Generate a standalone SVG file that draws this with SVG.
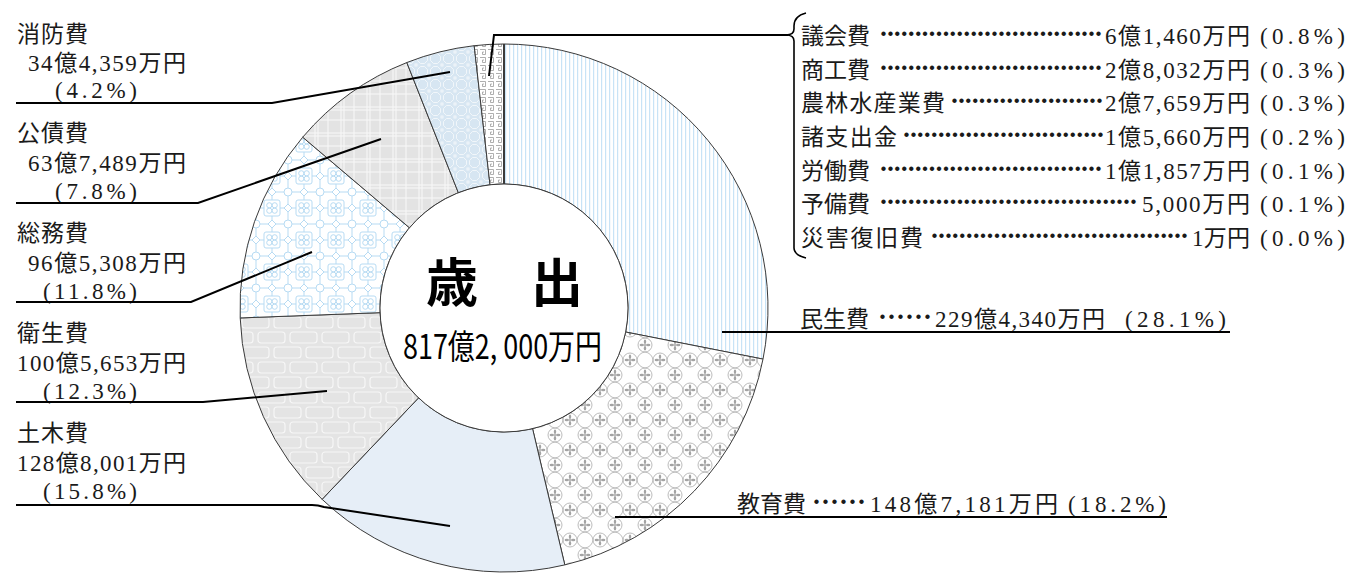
<svg xmlns="http://www.w3.org/2000/svg" xmlns:xlink="http://www.w3.org/1999/xlink" width="1372" height="573" viewBox="0 0 1372 573">
<style>
.slice{stroke:#3a3a3a;stroke-width:1}
.lbl{font-family:"Liberation Serif","Noto Sans CJK JP",serif;font-size:23px;fill:#1a1a1a}
.lst{font-family:"Liberation Serif","Noto Sans CJK JP",serif;font-size:23px;fill:#1a1a1a}
.dots{font-family:"Liberation Serif",serif;font-weight:bold;font-size:27px;fill:#1a1a1a}
.lead{fill:none;stroke:#000;stroke-width:2}
.big{font-family:"Noto Sans CJK JP",sans-serif;font-weight:bold;fill:#000}
</style>
<defs>
<g id="flower" fill="#a4a4a4">
<ellipse cx="0" cy="-3.2" rx="1.2" ry="2.2"/><ellipse cx="0" cy="3.2" rx="1.2" ry="2.2"/>
<ellipse cx="-3.2" cy="0" rx="2.2" ry="1.2"/><ellipse cx="3.2" cy="0" rx="2.2" ry="1.2"/>
<circle r="1"/>
</g>
<pattern id="p-minsei" patternUnits="userSpaceOnUse" width="4" height="8">
<rect width="4" height="8" fill="#fff"/><rect x="1" width="1.2" height="8" fill="#c8e3f6"/>
</pattern>
<pattern id="p-kyoiku" patternUnits="userSpaceOnUse" width="30" height="30">
<rect width="30" height="30" fill="#fff"/>
<g fill="none" stroke="#bcbcbc" stroke-width="1">
<circle cx="0" cy="0" r="7"/><circle cx="30" cy="0" r="7"/><circle cx="0" cy="30" r="7"/><circle cx="30" cy="30" r="7"/><circle cx="15" cy="15" r="7"/>
<path d="M7 0A9 9 0 0 0 15 8M23 0A9 9 0 0 1 15 8M7 30A9 9 0 0 1 15 22M23 30A9 9 0 0 0 15 22"/>
</g>
<use xlink:href="#flower" x="0" y="0"/><use xlink:href="#flower" x="30" y="0"/><use xlink:href="#flower" x="0" y="30"/><use xlink:href="#flower" x="30" y="30"/><use xlink:href="#flower" x="15" y="15"/>
</pattern>
<pattern id="p-eisei" patternUnits="userSpaceOnUse" width="32" height="30">
<rect width="32" height="30" fill="#e4e4e4"/>
<g fill="none" stroke="#f7f7f7" stroke-width="1.2">
<rect x="2" y="2" width="27" height="11" rx="3"/><rect x="-14" y="17" width="27" height="11" rx="3"/><rect x="18" y="17" width="27" height="11" rx="3"/>
</g>
</pattern>
<pattern id="p-somu" patternUnits="userSpaceOnUse" width="32" height="32">
<rect width="32" height="32" fill="#fff"/>
<g fill="none" stroke="#b7dbf3" stroke-width="1">
<rect x="8" y="8" width="16" height="16" rx="2"/>
<circle cx="13.3" cy="13.3" r="2.6"/><circle cx="18.7" cy="13.3" r="2.6"/><circle cx="13.3" cy="18.7" r="2.6"/><circle cx="18.7" cy="18.7" r="2.6"/>
<circle cx="0" cy="0" r="4"/><circle cx="32" cy="0" r="4"/><circle cx="0" cy="32" r="4"/><circle cx="32" cy="32" r="4"/>
<path d="M16 -4L20 0L16 4L12 0ZM16 28L20 32L16 36L12 32ZM-4 16L0 12L4 16L0 20ZM28 16L32 12L36 16L32 20Z"/>
<path d="M16 4V8M16 24V28M4 16H8M24 16H28M4 0H12M20 0H28M4 32H12M20 32H28M0 4V12M0 20V28M32 4V12M32 20V28"/>
</g>
</pattern>
<pattern id="p-kosai" patternUnits="userSpaceOnUse" width="26" height="26">
<rect width="26" height="26" fill="#e3e3e3"/>
<g stroke="#fafafa" stroke-width="1" opacity="0.9">
<path d="M3 0V26M6 0V26M16 0V26M0 3H26M0 6H26M0 16H26"/>
</g>
</pattern>
<pattern id="p-shobo" patternUnits="userSpaceOnUse" width="13" height="13">
<rect width="13" height="13" fill="#d7e6f2"/>
<g fill="none" stroke="#f4f8fb" stroke-width="0.9">
<path d="M4.5 1.5H8.5L11.5 4.5V8.5L8.5 11.5H4.5L1.5 8.5V4.5Z"/>
<rect x="-1" y="-1" width="2" height="2"/><rect x="12" y="-1" width="2" height="2"/><rect x="-1" y="12" width="2" height="2"/><rect x="12" y="12" width="2" height="2"/>
</g>
</pattern>
<pattern id="p-other" patternUnits="userSpaceOnUse" width="8" height="8">
<rect width="8" height="8" fill="#fff"/>
<path d="M0 1.5H5.5V6.5H2.5V4H4" fill="none" stroke="#9a9a9a" stroke-width="0.8"/>
</pattern>
</defs>

<rect width="1372" height="573" fill="#fff"/>

<g id="n-minsei">
<path class="slice" fill="url(#p-minsei)" d="M504 44A264 264 0 0 1 763.01 359.1L625.66 332A124 124 0 0 0 504 184Z"/>
<text class="lst" x="800" y="327" textLength="69">民生費</text>
<text class="dots" x="878" y="326" textLength="54">······</text>
<text class="lst" x="935" y="327" textLength="170">229億4,340万円</text>
<text class="lst" x="1125" y="327" textLength="101">(28.1%)</text>
</g>
<g id="n-kyoiku">
<path class="slice" fill="url(#p-kyoiku)" d="M763.01 359.1A264 264 0 0 1 564.82 564.9L532.57 428.66A124 124 0 0 0 625.66 332Z"/>
<text class="lst" x="737" y="512" textLength="69">教育費</text>
<text class="dots" x="812" y="511" textLength="54">······</text>
<text class="lst" x="870" y="512" textLength="188">148億7,181万円</text>
<text class="lst" x="1068" y="512" textLength="98">(18.2%)</text>
</g>
<g id="n-doboku">
<path class="slice" fill="#e6eef7" d="M564.82 564.9A264 264 0 0 1 322.11 499.34L418.57 397.87A124 124 0 0 0 532.57 428.66Z"/>
<text class="lbl" x="17" y="441" textLength="71">土木費</text>
<text class="lbl" x="17" y="471" textLength="169">128億8,001万円</text>
<text class="lbl" x="43" y="499" textLength="94">(15.8%)</text>
</g>
<g id="n-eisei">
<path class="slice" fill="url(#p-eisei)" d="M322.11 499.34A264 264 0 0 1 240.19 317.95L380.09 312.67A124 124 0 0 0 418.57 397.87Z"/>
<text class="lbl" x="17" y="341" textLength="71">衛生費</text>
<text class="lbl" x="17" y="371" textLength="169">100億5,653万円</text>
<text class="lbl" x="43" y="399" textLength="94">(12.3%)</text>
</g>
<g id="n-somu">
<path class="slice" fill="url(#p-somu)" d="M240.19 317.95A264 264 0 0 1 302.71 137.19L409.45 227.77A124 124 0 0 0 380.09 312.67Z"/>
<text class="lbl" x="17" y="241" textLength="71">総務費</text>
<text class="lbl" x="28" y="271" textLength="158">96億5,308万円</text>
<text class="lbl" x="43" y="299" textLength="94">(11.8%)</text>
</g>
<g id="n-kosai">
<path class="slice" fill="url(#p-kosai)" d="M302.71 137.19A264 264 0 0 1 406.82 62.54L458.35 192.71A124 124 0 0 0 409.45 227.77Z"/>
<text class="lbl" x="17" y="141" textLength="71">公債費</text>
<text class="lbl" x="28" y="171" textLength="158">63億7,489万円</text>
<text class="lbl" x="55" y="199" textLength="82">(7.8%)</text>
</g>
<g id="n-shobo">
<path class="slice" fill="url(#p-shobo)" d="M406.82 62.54A264 264 0 0 1 474.2 45.69L490.01 184.79A124 124 0 0 0 458.35 192.71Z"/>
<text class="lbl" x="17" y="42" textLength="71">消防費</text>
<text class="lbl" x="28" y="71" textLength="158">34億4,359万円</text>
<text class="lbl" x="55" y="98" textLength="82">(4.2%)</text>
</g>
<g id="n-other">
<path class="slice" fill="url(#p-other)" d="M474.2 45.69A264 264 0 0 1 504 44L504 184A124 124 0 0 0 490.01 184.79Z"/>
<line x1="504" y1="44" x2="504" y2="184" stroke="#3a3a3a" stroke-width="2"/>
</g>

<g id="n-center">
<circle cx="504" cy="308" r="124" fill="#fff" stroke="#3a3a3a" stroke-width="1"/>
<text class="big" x="452" y="302" font-size="52" text-anchor="middle">歳</text>
<text class="big" x="557" y="302" font-size="52" text-anchor="middle">出</text>
<text x="403" y="359" font-family="'Noto Sans CJK JP',sans-serif" font-size="34" fill="#000" textLength="199" lengthAdjust="spacingAndGlyphs">817億2, 000万円</text>
</g>

<g id="n-list">
<text class="lst" x="801" y="44" textLength="69">議会費</text>
<text class="dots" x="879" y="43" textLength="224">································</text>
<text class="lst" x="1105" y="44" textLength="145">6億1,460万円</text>
<text class="lst" x="1260" y="44" textLength="85">(0.8%)</text>

<text class="lst" x="801" y="78" textLength="69">商工費</text>
<text class="dots" x="879" y="77" textLength="224">································</text>
<text class="lst" x="1105" y="78" textLength="145">2億8,032万円</text>
<text class="lst" x="1260" y="78" textLength="85">(0.3%)</text>

<text class="lst" x="801" y="111" textLength="144">農林水産業費</text>
<text class="dots" x="950" y="110" textLength="154">······················</text>
<text class="lst" x="1105" y="111" textLength="145">2億7,659万円</text>
<text class="lst" x="1260" y="111" textLength="85">(0.3%)</text>

<text class="lst" x="801" y="145" textLength="96">諸支出金</text>
<text class="dots" x="902" y="144" textLength="203">·····························</text>
<text class="lst" x="1105" y="145" textLength="145">1億5,660万円</text>
<text class="lst" x="1260" y="145" textLength="85">(0.2%)</text>

<text class="lst" x="801" y="179" textLength="69">労働費</text>
<text class="dots" x="879" y="178" textLength="224">································</text>
<text class="lst" x="1105" y="179" textLength="145">1億1,857万円</text>
<text class="lst" x="1260" y="179" textLength="85">(0.1%)</text>

<text class="lst" x="801" y="212" textLength="69">予備費</text>
<text class="dots" x="879" y="211" textLength="259">·····································</text>
<text class="lst" x="1142" y="212" textLength="108">5,000万円</text>
<text class="lst" x="1260" y="212" textLength="85">(0.1%)</text>

<text class="lst" x="801" y="246" textLength="122">災害復旧費</text>
<text class="dots" x="930" y="245" textLength="259">·····································</text>
<text class="lst" x="1192" y="246" textLength="58">1万円</text>
<text class="lst" x="1260" y="246" textLength="85">(0.0%)</text>
</g>

<g id="connectors">
<path class="lead" d="M16 103H272L450 72"/>
<path class="lead" d="M16 203H198L381 139"/>
<path class="lead" d="M16 302H191L312 252"/>
<path class="lead" d="M16 402H203L327 391"/>
<path class="lead" d="M16 505H312Q318 505 324 507L450 526"/>
<path class="lead" d="M615 517H1167"/>
<path class="lead" d="M722 332H1230"/>
<path class="lead" d="M489 76L494 35H788"/>
<path d="M806 13Q794 16 794 26V29Q794 35 786 35Q794 35 794 41V248Q794 255 806 258" fill="none" stroke="#000" stroke-width="1.6"/>
</g>
</svg>
